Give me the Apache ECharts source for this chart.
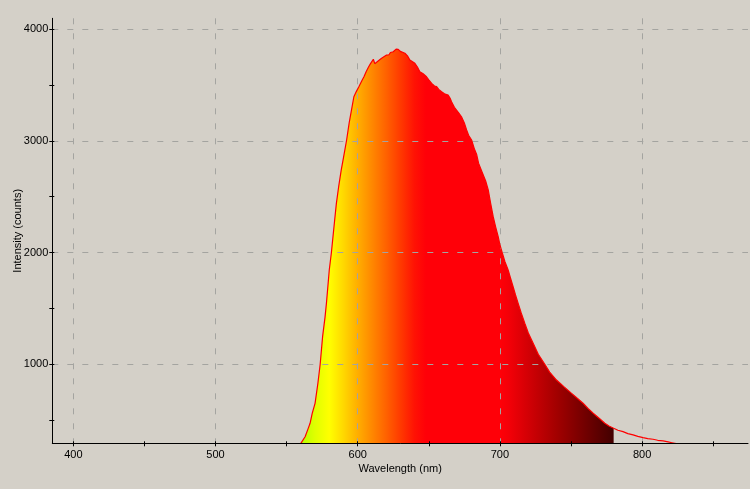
<!DOCTYPE html>
<html>
<head>
<meta charset="utf-8">
<script src="https://cdn.jsdelivr.net/npm/echarts@6/dist/echarts.min.js"></script>
<style>
html,body{margin:0;padding:0;background:#d4d0c8;}
#chart{width:750px;height:489px;}
</style>
</head>
<body>
<div id="chart"></div>
<script>
// Wavelength (nm) and intensity (counts)
const wavelength = [560,561,563,565,566.5,568,570,572,573.6,575.3,577,578,580,581.5,583.8,585,586.6,588.4,590,592.2,594,595.2,597.3,599,600.8,603,604.4,606,607.7,609,610,611,612,613.3,615,616.8,618,620.3,622,623,625,626,627,628.5,630,631,633.2,635,636.7,638,640.2,642,643.7,646,648.4,650,652,654,655.5,657,659,661,663.6,665,666,668,669.5,671,673,675,676.6,678,680.1,682,683.6,685,687.8,690,691.8,693.5,695.3,697,698.8,700,701.6,703.5,705.8,707.5,709.3,711,712.8,715,717.5,720,723.4,727,731.6,735,739.8,745,750.4,754,758.5,762,765.6,770,773.8,777,780,783,786.6,790,793.7,797,800.7,804,807.7,811,814.8,818.3,821,824];
const intensity  = [293,310,352,420,472,560,651,830,1000,1247,1420,1546,1844,2000,2291,2440,2589,2738,2850,3007,3160,3246,3394,3440,3484,3540,3573,3620,3663,3690,3700,3730,3690,3693,3720,3738,3730,3767,3770,3790,3797,3808,3820,3818,3800,3815,3783,3760,3723,3712,3693,3660,3618,3600,3573,3545,3514,3490,3484,3460,3439,3420,3409,3380,3350,3300,3275,3250,3215,3160,3096,3050,3007,2930,2880,2800,2710,2640,2560,2440,2321,2230,2142,2070,2000,1920,1844,1770,1694,1620,1546,1460,1367,1280,1188,1090,1000,930,859,800,740,700,651,605,562,515,472,445,427,410,397,380,368,355,344,335,329,320,314,305,298,290];
const fillEndWavelength = 780;
const xTickValues = [400,450,500,550,600,650,700,750,800,850];
const xLabelValues = [400,500,600,700,800];
const yTickValues = [500,1000,1500,2000,2500,3000,3500,4000];
const yLabelValues = [1000,2000,3000,4000];
const xRange = [385.2, 874.5];
const yRange = [293, 4096];
const xName = 'Wavelength (nm)';
const yName = 'Intensity (counts)';

const lineData = wavelength.map((w, i) => [w, intensity[i]]);
const fillData = lineData.filter(d => d[0] <= fillEndWavelength);

const FONT = 'Liberation Sans, Arial, sans-serif';
const gridL = 52.3, gridR = 2, gridT = 18.3, gridB = 45.7;
const W = 750, H = 489;
const gridW = W - gridL - gridR, gridH = H - gridT - gridB;

// spectral gradient stops keyed by wavelength
const spectrum = [
  [560,'#b4ff00'],[570,'#e0ff00'],[580,'#ffff00'],[590,'#ffd800'],[600,'#ffae00'],
  [610,'#ff8800'],[620,'#ff6200'],[630,'#ff3a00'],[640,'#ff1204'],[648,'#ff0008'],
  [700,'#ff0008'],[706,'#f40008'],[740,'#a20000'],[780,'#420000']
];
const span = fillEndWavelength - wavelength[0];
const stops = spectrum.map(s => ({offset: (s[0] - wavelength[0]) / span, color: s[1]}));

const chart = echarts.init(document.getElementById('chart'), null, {renderer: 'canvas'});
const tickLine = {color: '#000', width: 1};
const plain = v => String(v);
chart.setOption({
  backgroundColor: '#d4d0c8',
  animation: false,
  grid: {left: gridL, right: gridR, top: gridT, bottom: gridB, containLabel: false, outerBoundsMode: 'none'},
  xAxis: [
    {type: 'value', min: xRange[0], max: xRange[1], position: 'bottom', z: 5,
     axisLine: {show: true, lineStyle: {color: '#000', width: 1}},
     axisTick: {show: true, length: 3, customValues: xTickValues, lineStyle: tickLine},
     axisLabel: {customValues: xLabelValues, formatter: plain, color: '#000', fontFamily: FONT, fontSize: 11, margin: 6},
     splitLine: {show: false},
     name: xName, nameLocation: 'middle', nameGap: 20, nameMoveOverlap: false,
     nameTextStyle: {color: '#000', fontFamily: FONT, fontSize: 11}},
    {type: 'value', min: xRange[0], max: xRange[1], position: 'top', offset: -gridH, z: 5,
     axisLine: {show: false},
     axisTick: {show: true, length: 2, customValues: xTickValues, lineStyle: tickLine},
     axisLabel: {show: false}, splitLine: {show: false}},
    {type: 'value', min: xRange[0], max: xRange[1], position: 'bottom', z: 3,
     axisLine: {show: false}, axisTick: {show: false}, axisLabel: {show: false},
     splitLine: {show: true, showMinLine: false, showMaxLine: false,
                 lineStyle: {color: '#a4a4a0', width: 1, type: [6, 9]}}}
  ],
  yAxis: [
    {type: 'value', min: yRange[0], max: yRange[1], position: 'left', z: 5,
     axisLine: {show: true, lineStyle: {color: '#000', width: 1}},
     axisTick: {show: true, length: 3, customValues: yTickValues, lineStyle: tickLine},
     axisLabel: {customValues: yLabelValues, formatter: plain, color: '#000', fontFamily: FONT, fontSize: 11, margin: 4},
     splitLine: {show: false},
     name: yName, nameLocation: 'middle', nameGap: 28.5, nameMoveOverlap: false,
     nameTextStyle: {color: '#000', fontFamily: FONT, fontSize: 11}},
    {type: 'value', min: yRange[0], max: yRange[1], position: 'right', offset: -gridW, z: 5,
     axisLine: {show: false},
     axisTick: {show: true, length: 2, customValues: yTickValues, lineStyle: tickLine},
     axisLabel: {show: false}, splitLine: {show: false}},
    {type: 'value', min: yRange[0], max: yRange[1], position: 'left', z: 3,
     axisLine: {show: false}, axisTick: {show: false}, axisLabel: {show: false},
     splitLine: {show: true, showMinLine: false, showMaxLine: false,
                 lineStyle: {color: '#a4a4a0', width: 1, type: [6, 9]}}}
  ],
  series: [
    {type: 'line', xAxisIndex: 0, yAxisIndex: 0, data: fillData, symbol: 'none', z: 2,
     lineStyle: {opacity: 0, width: 0},
     areaStyle: {opacity: 1, color: new echarts.graphic.LinearGradient(0, 0, 1, 0, stops)}},
    {type: 'line', xAxisIndex: 0, yAxisIndex: 0, data: lineData, symbol: 'none', z: 4,
     lineStyle: {color: '#ff0000', width: 1.2}}
  ]
});
</script>
</body>
</html>
